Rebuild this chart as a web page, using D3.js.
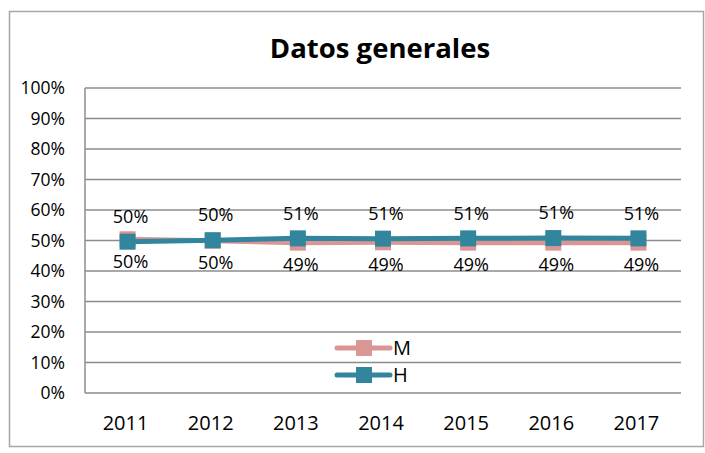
<!DOCTYPE html>
<html>
<head>
<meta charset="utf-8">
<script src="https://cdn.jsdelivr.net/npm/d3@7"></script>
<style>
  body { margin: 0; background: #fff; }
  text { font-family: "Open Sans", "Lato", sans-serif; fill: #000; }
</style>
</head>
<body>
<svg width="705" height="453"></svg>
<script>
// Chart data
var years = ["2011", "2012", "2013", "2014", "2015", "2016", "2017"];
var mValues = [0.504, 0.499, 0.493, 0.494, 0.493, 0.493, 0.493];
var hValues = [0.496, 0.501, 0.507, 0.506, 0.507, 0.508, 0.507];
var mLabels = ["50%", "50%", "49%", "49%", "49%", "49%", "49%"];
var hLabels = ["50%", "50%", "51%", "51%", "51%", "51%", "51%"];
var yTicks = [0, 0.1, 0.2, 0.3, 0.4, 0.5, 0.6, 0.7, 0.8, 0.9, 1];

var svg = d3.select("svg");

var margin = {left: 85, right: 24, top: 88, bottom: 60};
var width = 705, height = 453;

// outer border
svg.append("rect")
  .attr("x", 9.5).attr("y", 11.5)
  .attr("width", 694).attr("height", 435)
  .attr("fill", "none")
  .attr("stroke", "#a6a6a6")
  .attr("stroke-width", 1.5);

var x = d3.scaleBand()
  .domain(years)
  .range([margin.left, width - margin.right]);

var y = d3.scaleLinear()
  .domain([0, 1])
  .range([height - margin.bottom, margin.top]);

// gridlines
svg.append("g")
  .selectAll("line")
  .data(yTicks)
  .enter()
  .append("line")
    .attr("x1", margin.left)
    .attr("x2", width - margin.right)
    .attr("y1", function(d){ return y(d) })
    .attr("y2", function(d){ return y(d) })
    .attr("stroke", "#8c8c8c")
    .attr("stroke-width", 1.5);

// y axis line
svg.append("line")
  .attr("x1", margin.left).attr("x2", margin.left)
  .attr("y1", y(1)).attr("y2", y(0))
  .attr("stroke", "#8c8c8c")
  .attr("stroke-width", 1.5);

// y tick labels
svg.append("g")
  .selectAll("text")
  .data(yTicks)
  .enter()
  .append("text")
    .attr("x", margin.left - 20)
    .attr("y", function(d){ return y(d) })
    .attr("dy", "0.35em")
    .attr("text-anchor", "end")
    .style("font-size", "17.5px")
    .text(function(d){ return d3.format(".0%")(d) });

// x tick labels
svg.append("g")
  .selectAll("text")
  .data(years)
  .enter()
  .append("text")
    .attr("x", function(d){ return x(d) + x.bandwidth() / 2 - 2 })
    .attr("y", 423)
    .attr("dy", "0.35em")
    .attr("text-anchor", "middle")
    .style("font-size", "20px")
    .text(function(d){ return d });

// title
svg.append("text")
  .attr("x", 380).attr("y", 48)
  .attr("dy", "0.35em")
  .attr("text-anchor", "middle")
  .style("font-size", "27.5px")
  .style("font-weight", "bold")
  .text("Datos generales");

var series = [
  {name: "M", values: mValues, labels: mLabels, color: "#d99694", above: false},
  {name: "H", values: hValues, labels: hLabels, color: "#31859c", above: true}
];

var line = d3.line()
  .x(function(d, i){ return x(years[i]) + x.bandwidth() / 2 })
  .y(function(d){ return y(d) });

series.forEach(function(s){
  svg.append("path")
    .datum(s.values)
    .attr("d", line)
    .attr("fill", "none")
    .attr("stroke", s.color)
    .attr("stroke-width", 5)
    .attr("stroke-linejoin", "round");

  svg.append("g")
    .selectAll("rect")
    .data(s.values)
    .enter()
    .append("rect")
      .attr("x", function(d, i){ return x(years[i]) + x.bandwidth() / 2 - 8 })
      .attr("y", function(d){ return y(d) - 8 })
      .attr("width", 16).attr("height", 16)
      .attr("fill", s.color);
});

// data labels
series.forEach(function(s){
  svg.append("g")
    .selectAll("text")
    .data(s.values)
    .enter()
    .append("text")
      .attr("x", function(d, i){ return x(years[i]) + x.bandwidth() / 2 + 3 })
      .attr("y", function(d){ return s.above ? y(d) - 25 : y(d) + 22 })
      .attr("dy", "0.35em")
      .attr("text-anchor", "middle")
      .style("font-size", "18px")
      .text(function(d, i){ return s.labels[i] });
});

// legend
var legend = svg.append("g");
series.forEach(function(s, i){
  var ly = 348 + i * 27;
  legend.append("line")
    .attr("x1", 337).attr("x2", 390)
    .attr("y1", ly).attr("y2", ly)
    .attr("stroke", s.color)
    .attr("stroke-width", 5)
    .attr("stroke-linecap", "round");
  legend.append("rect")
    .attr("x", 356).attr("y", ly - 8)
    .attr("width", 16).attr("height", 16)
    .attr("fill", s.color);
  legend.append("text")
    .attr("x", 393).attr("y", ly)
    .attr("dy", "0.35em")
    .style("font-size", "20px")
    .text(s.name);
});
</script>
</body>
</html>
